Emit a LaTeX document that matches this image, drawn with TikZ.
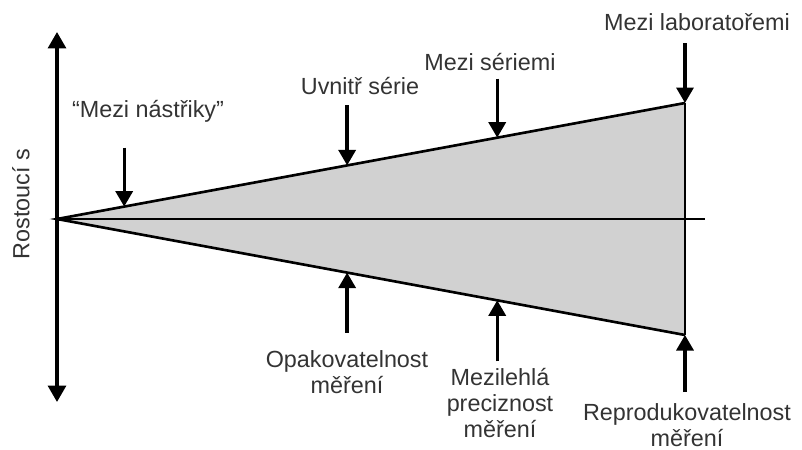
\documentclass[tikz,border=0pt]{standalone}
\usepackage{fontspec}
\setmainfont{Liberation Sans}
\usetikzlibrary{arrows.meta,calc}

\tikzset{
  pointer/.style={line width=1.9pt, -{Triangle[width=0.34cm,length=0.31cm]}},
  axis/.style={line width=1.9pt, {Triangle[width=0.36cm,length=0.33cm]}-{Triangle[width=0.36cm,length=0.33cm]}},
  edge/.style={line width=1.5pt},
  label/.style={align=center, inner sep=0pt, text=black!80}
}

\begin{document}
\begin{tikzpicture}[x=0.02cm, y=-0.02cm, font=\fontsize{13.3}{14.8}\selectfont]
\useasboundingbox (0,0) rectangle (802,450);

% the widening wedge
\coordinate (apex) at (57,219);
\coordinate (top) at (685,103);
\coordinate (bot) at (685,335);
\coordinate (mid) at (705,219);
\fill[black!18] (apex) -- (top) -- (bot) -- cycle;
\draw[edge] (top) -- (apex) -- (bot);
\draw[line width=1pt] (top) -- (bot);
\draw[line width=1pt] (apex) -- (mid);

% vertical axis
\coordinate (ytop) at (57,32);
\coordinate (ybot) at (57,402);
\draw[axis] (ybot) -- (ytop);
\node[rotate=90, label] (ylab) at (21,204) {Rostoucí s};

% points on the upper and lower edge
\foreach \f/\n in {0.107/a, 0.462/b, 0.701/c, 1/d} {
  \coordinate (up\n) at ($(apex)!\f!(top)$);
  \coordinate (lo\n) at ($(apex)!\f!(bot)$);
}

% upper arrows
\node[label] (inj) at (148,111) {“Mezi nástřiky”};
\node[label] (within) at (360,86) {Uvnitř série};
\node[label] (series) at (490,62) {Mezi sériemi};
\node[label] (labs) at (697,22) {Mezi laboratořemi};
\draw[pointer] ($(upa)+(0,-59)$) -- (upa);
\draw[pointer] ($(upb)+(0,-60)$) -- (upb);
\draw[pointer] ($(upc)+(0,-59)$) -- (upc);
\draw[pointer] ($(upd)+(0,-60)$) -- (upd);

% lower arrows
\node[label] (repeat) at (347,372) {Opakovatelnost\\měření};
\node[label] (interm) at (500,403) {Mezilehlá\\preciznost\\měření};
\node[label] (reprod) at (687,425) {Reprodukovatelnost\\měření};
\draw[pointer] ($(lob)+(0,60)$) -- (lob);
\draw[pointer] ($(loc)+(0,61)$) -- (loc);
\draw[pointer] ($(lod)+(0,57)$) -- (lod);
\end{tikzpicture}
\end{document}
